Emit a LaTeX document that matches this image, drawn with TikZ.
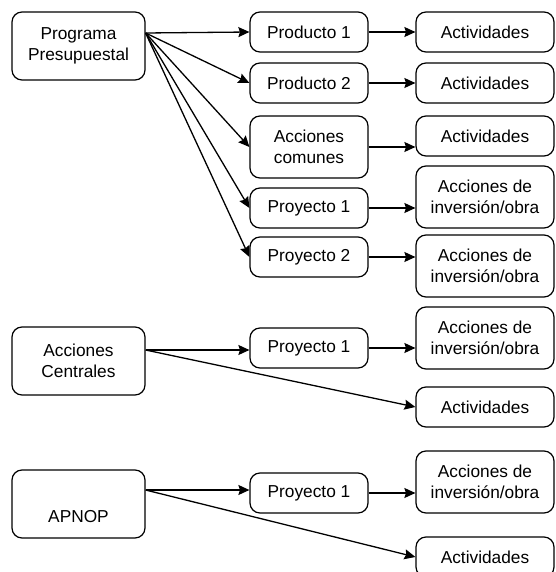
\documentclass[tikz,border=0pt]{standalone}
\usepackage{fontspec}
\setmainfont{Liberation Sans}
\usepackage{tikz}
\usetikzlibrary{arrows.meta}

\begin{document}
\begin{tikzpicture}[x=1pt,y=-1pt,
  caja/.style={draw,line width=1.2pt,rounded corners=10pt,align=center,
    inner sep=0pt,font=\fontsize{17.3}{21.5}\selectfont},
  izq/.style={caja,minimum width=133pt,minimum height=68pt},
  med/.style={caja,minimum width=118pt,minimum height=40pt},
  der/.style={caja,minimum width=138pt,minimum height=40pt},
  alta/.style={minimum height=62pt},
  flecha/.style={line width=1.3pt,-{Stealth[length=11pt,width=10pt,inset=1.5pt]}}]
\useasboundingbox (0,0) rectangle (555,572);
\def\xl{78.5}
\def\xm{309}
\def\xr{485}
% columna izquierda
\node[izq] (pp) at (\xl,46) {Programa\\Presupuestal};
\node[izq] (ac) at (\xl,361) {Acciones\\Centrales};
\node[izq] (ap) at (\xl,504) {\strut\\APNOP};
% columna central
\node[med] (m1) at (\xm,32) {Producto 1};
\node[med] (m2) at (\xm,83) {Producto 2};
\node[med,alta] (m3) at (\xm,147) {Acciones\\comunes};
\node[med] (m4) at (\xm,208) {Proyecto 1};
\node[med] (m5) at (\xm,257) {Proyecto 2};
\node[med] (m6) at (\xm,348) {Proyecto 1};
\node[med] (m7) at (\xm,493) {Proyecto 1};
% columna derecha
\node[der] (r1) at (\xr,32) {Actividades};
\node[der] (r2) at (\xr,83) {Actividades};
\node[der] (r3) at (\xr,136) {Actividades};
\node[der,alta] (r4) at (\xr,197) {Acciones de\\inversión/obra};
\node[der,alta] (r5) at (\xr,266) {Acciones de\\inversión/obra};
\node[der,alta] (r6) at (\xr,338) {Acciones de\\inversión/obra};
\node[der] (r7) at (\xr,407) {Actividades};
\node[der,alta] (r8) at (\xr,482) {Acciones de\\inversión/obra};
\node[der] (r9) at (\xr,557) {Actividades};
% salidas
\coordinate (pps) at ([yshift=13pt]pp.east);
\coordinate (acs) at ([yshift=11pt]ac.east);
\coordinate (aps) at ([yshift=14pt]ap.east);
% flechas
\foreach \b in {m1,m2,m3,m4,m5}
  \draw[flecha] (pps) -- (\b.west);
\foreach \a/\b in {m1/r1,m2/r2,m3/r3,m4/r4,m5/r5,m6/r6,m7/r8}
  \draw[flecha] (\a.east) -- (\a.east -| \b.west);
\draw[flecha] (acs) -- (acs -| m6.west);
\draw[flecha] (acs) -- (r7.west);
\draw[flecha] (aps) -- (aps -| m7.west);
\draw[flecha] (aps) -- (r9.west);
\end{tikzpicture}
\end{document}
